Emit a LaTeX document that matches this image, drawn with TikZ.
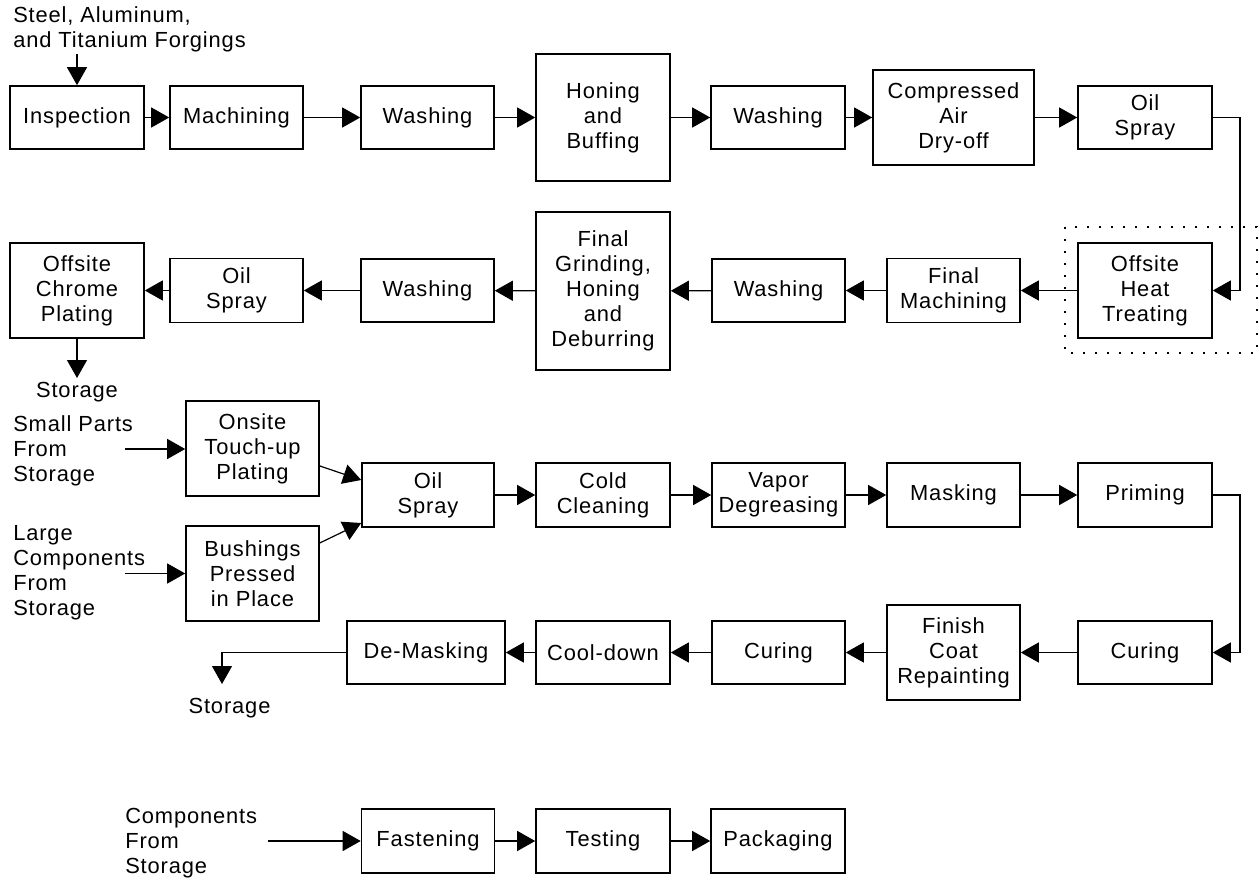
\documentclass[tikz,border=0pt]{standalone}
\usepackage{fontspec}
\setmainfont{Liberation Sans}[LetterSpace=4]
\usetikzlibrary{arrows.meta,calc}
\tikzset{
  pbox/.style={draw, line width=1.2pt, align=center, inner sep=0pt,
    font=\fontsize{16.4}{18.75}\selectfont},
  lbl/.style={align=left, inner sep=0pt, anchor=west,
    font=\fontsize{16.4}{18.75}\selectfont},
  clbl/.style={align=center, inner sep=0pt,
    font=\fontsize{16.4}{18.75}\selectfont},
  flow/.style={line width=0.9pt, -{Triangle[length=13.5pt,width=15pt]}},
}
\newcommand{\bx}[6]{\node[pbox, minimum width=#4*0.75pt, minimum height=#5*0.75pt] (#1) at (#2,#3) {#6};}
\begin{document}
\begin{tikzpicture}[x=0.75pt,y=-0.75pt]
\useasboundingbox (0,0) rectangle (1260,881);
% row 1
\bx{insp}{77}{117.5}{134}{63}{Inspection}
\bx{mach}{236.5}{117.5}{133}{63}{Machining}
\bx{washa}{427.5}{117.5}{133}{63}{Washing}
\bx{hone}{603}{117.5}{134}{127}{Honing\\and\\Buffing}
\bx{washb}{778}{117.5}{134}{63}{Washing}
\bx{comp}{953.5}{117.5}{161}{95}{Compressed\\Air\\Dry-off}
\bx{oila}{1145}{117.5}{134}{63}{Oil\\Spray}
% row 2
\bx{heat}{1145}{290.5}{134}{95}{Offsite\\Heat\\Treating}
\bx{fmach}{953.5}{290.5}{133}{64}{Final\\Machining}
\bx{washc}{778.5}{290.5}{133}{63}{Washing}
\bx{grind}{603}{291}{134}{158}{Final\\Grinding,\\Honing\\and\\Deburring}
\bx{washd}{427.5}{290.5}{133}{63}{Washing}
\bx{oilb}{236.5}{290.5}{133}{64}{Oil\\Spray}
\bx{chrome}{77}{290.5}{134}{95}{Offsite\\Chrome\\Plating}
\draw[line width=1.2pt, dash pattern=on 1.3pt off 7.7pt] (1065,227) rectangle (1257,353);
% row 3
\bx{onsite}{252.5}{448.5}{133}{95}{Onsite\\Touch-up\\Plating}
\bx{bush}{252.5}{573.5}{133}{95}{Bushings\\Pressed\\in Place}
\bx{oilc}{428}{495}{132}{64}{Oil\\Spray}
\bx{cold}{603}{495}{134}{64}{Cold\\Cleaning}
\bx{vapor}{778.5}{495}{133}{64}{Vapor\\Degreasing}
\bx{mask}{953.5}{495}{133}{64}{Masking}
\bx{prime}{1145}{495}{134}{64}{Priming}
% row 4
\bx{curea}{1145}{652.5}{134}{63}{Curing}
\bx{finish}{953.5}{652.5}{133}{95}{Finish\\Coat\\Repainting}
\bx{cureb}{778.5}{652.5}{133}{63}{Curing}
\bx{cool}{603}{652.5}{134}{63}{Cool-down}
\bx{demask}{426}{652.5}{158}{63}{De-Masking}
% row 5
\bx{fasten}{428}{841}{133}{64}{Fastening}
\bx{test}{603}{841}{134}{64}{Testing}
\bx{pack}{778}{841}{134}{64}{Packaging}
% labels
\node[lbl] (steel) at (13,29.5) {Steel, Aluminum,\\and Titanium Forgings};
\node[clbl] (stora) at (77,392) {Storage};
\node[lbl] (small) at (13,451) {Small Parts\\From\\Storage};
\node[lbl] (large) at (13,572.5) {Large\\Components\\From\\Storage};
\node[clbl] (storb) at (229.5,708) {Storage};
\node[lbl] (compo) at (125,843) {Components\\From\\Storage};
% coordinates
\coordinate (steelend) at (77,54);
\coordinate (storaend) at (77,378);
\coordinate (smallend) at (125,449);
\coordinate (largeend) at (125,573.5);
\coordinate (compoend) at (268,841);
\coordinate (storbend) at (222,684);
% connectors row 1
\draw[flow] (steelend) -- (insp.north);
\draw[flow] (insp) -- (mach);
\draw[flow] (mach) -- (washa);
\draw[flow] (washa) -- (hone);
\draw[flow] (hone) -- (washb);
\draw[flow] (washb) -- (comp);
\draw[flow] (comp) -- (oila);
\draw[flow] (oila.east) -- (1240,117.5) -- (1240,290.5) -- (heat.east);
% row 2
\draw[flow] (heat) -- (fmach);
\draw[flow] (fmach) -- (washc);
\draw[flow] (washc) -- (grind);
\draw[flow] (grind) -- (washd);
\draw[flow] (washd) -- (oilb);
\draw[flow] (oilb) -- (chrome);
\draw[flow] (chrome.south) -- (storaend);
% row 3
\draw[flow] (smallend) -- (smallend -| onsite.west);
\draw[flow] (largeend) -- (largeend -| bush.west);
\draw[flow] ([yshift=-13.1pt]onsite.east) -- ([yshift=11.25pt]oilc.west);
\draw[flow] ([yshift=22.9pt]bush.east) -- ([yshift=-21pt]oilc.west);
\draw[flow] (oilc) -- (cold);
\draw[flow] (cold) -- (vapor);
\draw[flow] (vapor) -- (mask);
\draw[flow] (mask) -- (prime);
\draw[flow] (prime.east) -- (1240,495) -- (1240,652.5) -- (curea.east);
% row 4
\draw[flow] (curea) -- (finish);
\draw[flow] (finish) -- (cureb);
\draw[flow] (cureb) -- (cool);
\draw[flow] (cool) -- (demask);
\draw[flow] (demask.west) -- (222,652.5) -- (storbend);
% row 5
\draw[flow] (compoend) -- (fasten.west);
\draw[flow] (fasten) -- (test);
\draw[flow] (test) -- (pack);
\end{tikzpicture}
\end{document}
